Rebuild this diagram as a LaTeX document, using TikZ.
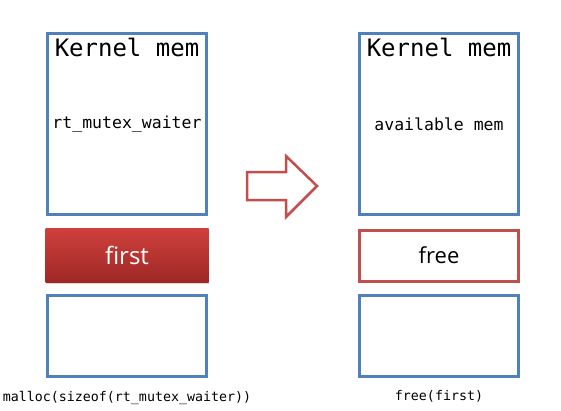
\documentclass[tikz,border=0pt]{standalone}
\usepackage{fontspec}
\setmainfont{Open Sans}
\setmonofont{DejaVu Sans Mono}
\usepackage{xcolor}
\usepackage{tikz}
\usetikzlibrary{shadows}

\definecolor{boxblue}{RGB}{79,129,189}
\definecolor{boxred}{RGB}{192,80,77}
\definecolor{usedtop}{RGB}{207,64,60}
\definecolor{usedbottom}{RGB}{158,40,38}

\begin{document}
\begin{tikzpicture}[x=1pt,y=-1pt, line width=3pt,
  mem/.style = {draw=boxblue, minimum width=159pt, inner sep=0pt},
  used/.style = {draw=none, minimum width=163pt, minimum height=54pt, top color=usedtop, bottom color=usedbottom, drop shadow={opacity=0.3,shadow xshift=0pt,shadow yshift=-1.5pt}, text=white, font=\fontsize{24}{28}\selectfont},
  freed/.style = {draw=boxred, minimum width=159pt, minimum height=51pt, font=\fontsize{22}{26}\selectfont},
  title/.style = {font=\ttfamily\fontsize{24}{28}\selectfont},
  inner/.style = {font=\ttfamily\fontsize{16.5}{20}\selectfont},
  call/.style = {font=\ttfamily\fontsize{13.3}{16}\selectfont}]
\useasboundingbox (0,0) rectangle (561,410);
% before
\node[mem,minimum height=181pt,inner] (kl) at (127,124) {rt\_mutex\_waiter};
\node[title] (tl) at (127,47) {Kernel mem};
\node[used] (first) at (127,255.5) {first};
\node[mem,minimum height=81pt] (bl) at (127,336) {};
\node[call] (ml) at (127,398) {malloc(sizeof(rt\_mutex\_waiter))};
% after
\node[mem,minimum height=181pt,inner] (kr) at (439,124) {available mem};
\node[title] (tr) at (439,47) {Kernel mem};
\node[freed] (fr) at (439,255.5) {free};
\node[mem,minimum height=81pt] (br) at (439,336) {};
\node[call] (fc) at (439,396) {free(first)};
% arrow
\draw[boxred,line width=2.5pt,line join=miter] (247,172) -- (286,172) -- (286,156) -- (317,186) -- (286,217) -- (286,200) -- (247,200) -- cycle;
\end{tikzpicture}
\end{document}
